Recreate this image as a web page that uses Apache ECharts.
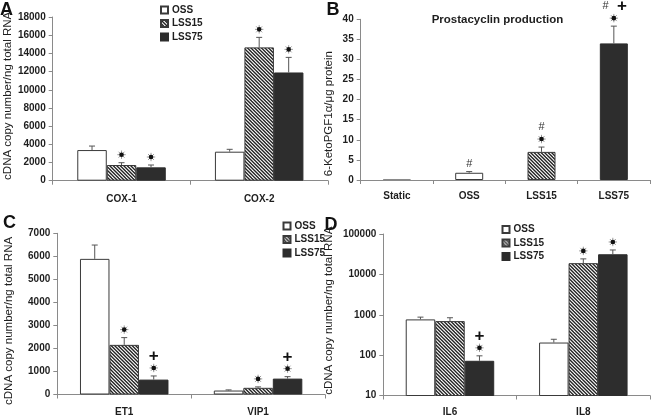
<!DOCTYPE html>
<html><head><meta charset="utf-8">
<script src="https://cdn.jsdelivr.net/npm/echarts@6/dist/echarts.min.js"></script>
<style>html,body{margin:0;padding:0;background:#fff}#c{width:651px;height:417px}</style>
</head><body><div id="c"></div>
<script>
// ---------- data ----------
const seriesNames = ['OSS', 'LSS15', 'LSS75'];

// Panel A: COX
const catsA = ['COX-1', 'COX-2'];
const aOSS = [3370, 3190];      const aOSSErr = [440, 260];
const aLSS15 = [1725, 14660];   const aLSS15Err = [255, 1100];
const aLSS75 = [1470, 11900];   const aLSS75Err = [255, 1660];
const aAnnOSS = [[], []];
const aAnnLSS15 = [['*'], ['*']];
const aAnnLSS75 = [['*'], ['*']];
const yA = {min: 0, max: 18000, interval: 2000};

// Panel B: prostacyclin
const catsB = ['Static', 'OSS', 'LSS15', 'LSS75'];
const bValues = [0.25, 1.8, 7.0, 34.0];
const bErr = [0, 0.3, 1.2, 4.3];
const bAnn = [[], ['#'], ['*', '#'], ['*', '# +']];
const yB = {min: 0, max: 40, interval: 5};
const titleB = 'Prostacyclin production';

// Panel C: ET1 / VIP1
const catsC = ['ET1', 'VIP1'];
const cOSS = [5890, 172];   const cOSSErr = [600, 28];
const cLSS15 = [2155, 290]; const cLSS15Err = [315, 40];
const cLSS75 = [647, 690];  const cLSS75Err = [158, 85];
const cAnnOSS = [[], []];
const cAnnLSS15 = [['*'], ['*']];
const cAnnLSS75 = [['*', '+'], ['*', '+']];
const yC = {min: 0, max: 7000, interval: 1000};

// Panel D: IL6 / IL8 (log)
const catsD = ['IL6', 'IL8'];
const dOSS = [767, 205];     const dOSSErr = [106, 42];
const dLSS15 = [696, 18970]; const dLSS15Err = [147, 5230];
const dLSS75 = [72.4, 31500]; const dLSS75Err = [23.6, 8700];
const dAnnOSS = [[], []];
const dAnnLSS15 = [[], ['*']];
const dAnnLSS75 = [['*', '+'], ['*']];
const yD = {min: 10, max: 100000};

const yNameRNA = 'cDNA copy number/ng total RNA';
const yNameB = '6-KetoPGF1\u03b1/\u03bcg protein';

// ---------- styles ----------
const FONT = '"Liberation Sans", Arial, Helvetica, sans-serif';
const TXT = '#1e1e1e';
const AX = '#8a8a8a';
const EDGE = '#3a3a3a';

function hatchCanvas() {
  const s = 7;
  const c = document.createElement('canvas');
  c.width = s; c.height = s;
  const g = c.getContext('2d');
  g.fillStyle = '#fff'; g.fillRect(0, 0, s, s);
  g.strokeStyle = '#222'; g.lineWidth = 1.35;
  for (let k = -3; k <= 3; k++) {
    const c0 = k * 3.5;
    g.beginPath(); g.moveTo(c0 - 2, -2); g.lineTo(c0 + s + 2, s + 2); g.stroke();
  }
  return c;
}
const HATCH = {image: hatchCanvas(), repeat: 'repeat'};
const styleOf = {
  OSS: {color: '#ffffff', borderColor: EDGE, borderWidth: 1},
  LSS15: {color: HATCH, borderColor: EDGE, borderWidth: 1},
  LSS75: {color: '#2d2d2d', borderColor: '#2d2d2d', borderWidth: 1},
  Static: {color: '#9a9a9a', borderColor: '#8a8a8a', borderWidth: 1}
};

function star(x, y) {
  const ch = [];
  for (let k = 0; k < 8; k++) {
    const a = k * Math.PI / 4;
    ch.push({type: 'line', shape: {x1: x, y1: y, x2: x + Math.cos(a) * 4.2, y2: y + Math.sin(a) * 4.2},
      style: {stroke: '#9a9a9a', lineWidth: 1}});
  }
  ch.push({type: 'circle', shape: {cx: x, cy: y, r: 2.3}, style: {fill: '#111'}});
  return {type: 'group', children: ch};
}
function token(t, x, y) {
  if (t === '*') return star(x, y);
  if (t === '+') return {type: 'text', x: x, y: y + 0.5, style: {text: '+', align: 'center', verticalAlign: 'middle',
    font: 'bold 17px ' + FONT, fill: '#111'}};
  return {type: 'text', x: x, y: y, style: {text: t, align: 'center', verticalAlign: 'middle',
    font: '11px ' + FONT, fill: '#333'}};
}

function errSeries(idx, vals, errs, anns, offset) {
  return {
    type: 'custom', xAxisIndex: idx, yAxisIndex: idx, z: 5, silent: true,
    data: vals.map((v, i) => [i, v, errs[i]]),
    encode: {x: 0, y: 1},
    renderItem: function (params, api) {
      const i = api.value(0), v = api.value(1), e = api.value(2);
      const b = api.coord([i, v]);
      const t = api.coord([i, v + e]);
      const x = b[0] + offset;
      const ch = [];
      if (e > 0) {
        ch.push({type: 'line', shape: {x1: x, y1: b[1], x2: x, y2: t[1]}, style: {stroke: '#555', lineWidth: 1}});
        ch.push({type: 'line', shape: {x1: x - 3, y1: t[1], x2: x + 3, y2: t[1]}, style: {stroke: '#555', lineWidth: 1}});
      }
      const rows = anns[params.dataIndex] || [];
      let y = t[1] - 8;
      rows.forEach(row => {
        const toks = row.split(' ');
        const sp = 16.5;
        toks.forEach((tk, j) => {
          ch.push(token(tk, x + (j - (toks.length - 1) / 2) * sp, y));
        });
        y -= 12.3;
      });
      return {type: 'group', children: ch};
    }
  };
}

function barSeries(idx, name, vals, bw) {
  return {type: 'bar', name: name, xAxisIndex: idx, yAxisIndex: idx, data: vals,
    barWidth: bw, barGap: '0%', itemStyle: styleOf[name], emphasis: {disabled: true}, animation: false};
}

function xAx(idx, cats, margin) {
  return {type: 'category', gridIndex: idx, data: cats,
    axisLine: {lineStyle: {color: AX, width: 1}},
    axisTick: {show: true, length: 4, lineStyle: {color: AX}},
    axisLabel: {margin: margin, fontFamily: FONT, fontWeight: 'bold', fontSize: 10, color: TXT}};
}
function yAx(idx, rng, name, gap, pad, type) {
  const o = {type: type || 'value', gridIndex: idx, min: rng.min, max: rng.max,
    axisLine: {show: true, lineStyle: {color: AX, width: 1}},
    axisTick: {show: true, length: 4, lineStyle: {color: AX}},
    splitLine: {show: false},
    axisLabel: {margin: 7, fontFamily: FONT, fontWeight: 'bold', fontSize: 10, color: TXT,
      formatter: v => String(v)},
    name: name, nameLocation: 'middle', nameGap: gap,
    nameTextStyle: {fontFamily: FONT, fontSize: 11.5, color: TXT, padding: pad}};
  if (rng.interval) o.interval = rng.interval;
  if (type === 'log') o.logBase = 10;
  return o;
}
function legendAt(left, top) {
  return {orient: 'vertical', left: left, top: top, itemWidth: 7, itemHeight: 7, itemGap: 3.5,
    padding: 0, selectedMode: false, icon: 'rect', data: seriesNames,
    textStyle: {fontFamily: FONT, fontWeight: 'bold', fontSize: 10, color: TXT, padding: [0, 0, 0, -1]}};
}

const BW = 29.5;
const series = [];
// A
[[aOSS, aOSSErr, aAnnOSS], [aLSS15, aLSS15Err, aAnnLSS15], [aLSS75, aLSS75Err, aAnnLSS75]].forEach((d, k) => {
  series.push(barSeries(0, seriesNames[k], d[0], BW));
  series.push(errSeries(0, d[0], d[1], d[2], (k - 1) * BW));
});
// B
series.push({type: 'bar', name: 'Prostacyclin', xAxisIndex: 1, yAxisIndex: 1, barWidth: 28, animation: false,
  emphasis: {disabled: true},
  data: bValues.map((v, i) => ({value: v, itemStyle: styleOf[catsB[i]]}))});
series.push(errSeries(1, bValues, bErr, bAnn, 0));
// C
[[cOSS, cOSSErr, cAnnOSS], [cLSS15, cLSS15Err, cAnnLSS15], [cLSS75, cLSS75Err, cAnnLSS75]].forEach((d, k) => {
  series.push(barSeries(2, seriesNames[k], d[0], BW));
  series.push(errSeries(2, d[0], d[1], d[2], (k - 1) * BW));
});
// D
[[dOSS, dOSSErr, dAnnOSS], [dLSS15, dLSS15Err, dAnnLSS15], [dLSS75, dLSS75Err, dAnnLSS75]].forEach((d, k) => {
  series.push(barSeries(3, seriesNames[k], d[0], BW));
  series.push(errSeries(3, d[0], d[1], d[2], (k - 1) * BW));
});

const letter = (t, x, y) => ({type: 'text', x: x, y: y, style: {text: t, font: 'bold 18px ' + FONT, fill: '#111'}});

const option = {
  backgroundColor: '#ffffff',
  animation: false,
  grid: [
    {left: 52.7, top: 17, width: 275.3, height: 163.7},
    {left: 360.7, top: 19.3, width: 289.3, height: 160.7},
    {left: 57.3, top: 233.3, width: 267.7, height: 162.4},
    {left: 383.3, top: 234, width: 266.7, height: 162.7}
  ],
  xAxis: [xAx(0, catsA, 14), xAx(1, catsB, 11), xAx(2, catsC, 12.5), xAx(3, catsD, 11.5)],
  yAxis: [
    yAx(0, yA, yNameRNA, 39, [0, 0, 0, 6]),
    yAx(1, yB, yNameB, 26, [0, 28, 0, 0]),
    yAx(2, yC, yNameRNA, 42, [0, 14, 0, 0]),
    yAx(3, yD, yNameRNA, 48, [0, 0, 0, 8], 'log')
  ],
  legend: [legendAt(160, 5), legendAt(282.5, 221), legendAt(501.5, 224.5)],
  graphic: [
    letter('A', 0, 1), letter('B', 326.5, 1), letter('C', 3, 214.5), letter('D', 324.5, 216.5),
    {type: 'text', x: 497.5, y: 20, style: {text: titleB, align: 'center', verticalAlign: 'middle',
      font: 'bold 11.5px ' + FONT, fill: TXT}}
  ],
  series: series
};
const chart = echarts.init(document.getElementById('c'), null, {renderer: 'canvas'});
chart.setOption(option);
</script></body></html>
